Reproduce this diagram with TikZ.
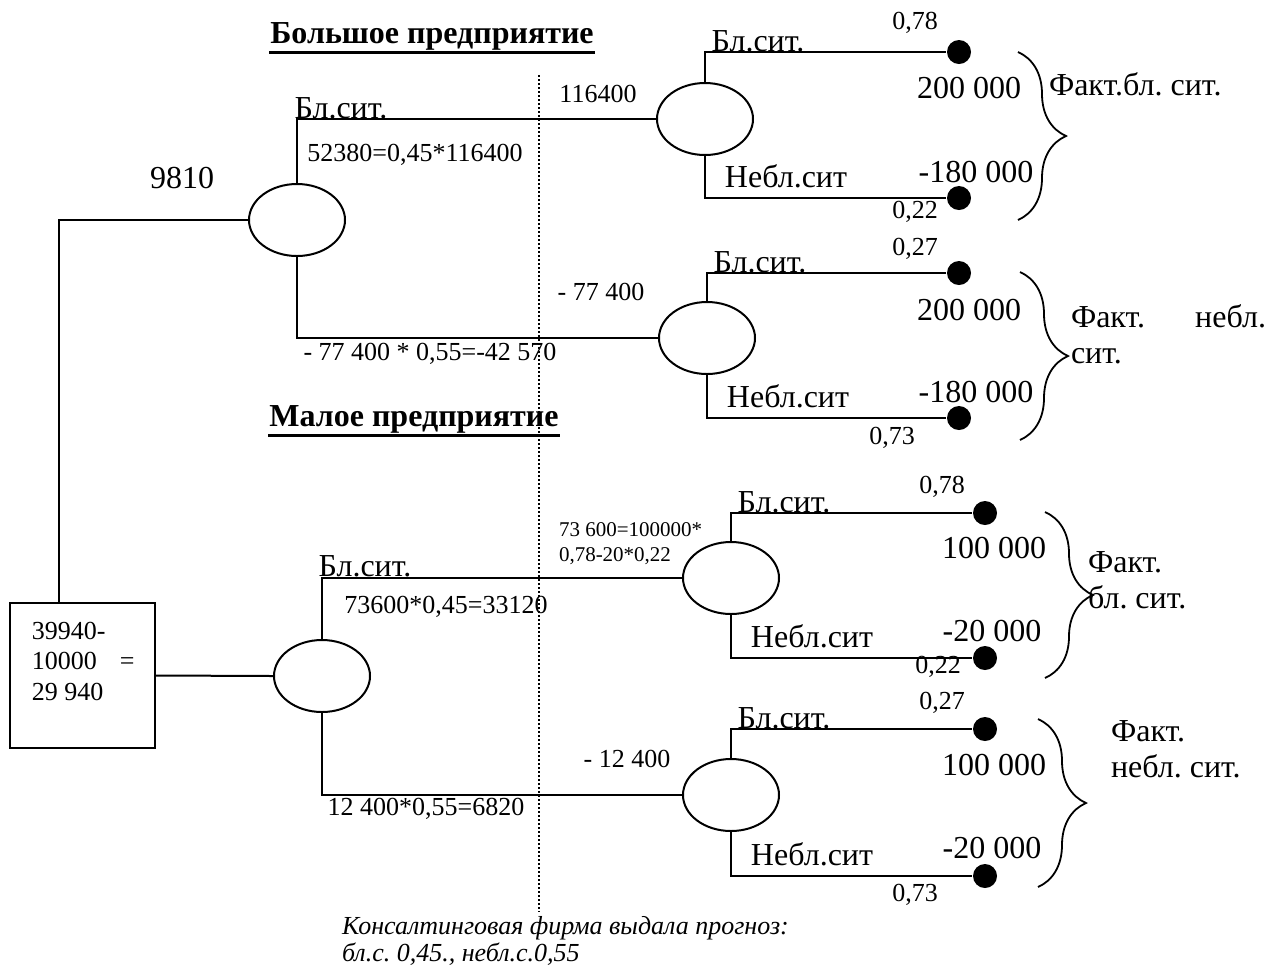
\documentclass[tikz,border=0pt]{standalone}
\usepackage{fontspec}
\setmainfont{Liberation Serif}
\usetikzlibrary{positioning}
\usetikzlibrary{shapes.geometric}
\usetikzlibrary{decorations.pathreplacing}

\begin{document}
\frenchspacing
\begin{tikzpicture}[x=0.5pt, y=-0.5pt, line width=1pt,
    chance/.style={ellipse, draw=black, minimum width=48pt, minimum height=36pt, inner sep=0pt},
    leaf/.style={circle, fill=black, minimum size=12pt, inner sep=0pt},
    box/.style={rectangle, draw=black, minimum width=72.5pt, minimum height=72.5pt},
    bigtxt/.style={inner sep=0pt, font=\fontsize{16}{18}\selectfont},
    midtxt/.style={inner sep=0pt, font=\fontsize{13}{15.25}\selectfont},
    smalltxt/.style={inner sep=0pt, font=\fontsize{10.5}{12.5}\selectfont},
    title/.style={inner sep=0pt, font=\fontsize{16}{18}\selectfont\bfseries},
    curly/.style={decorate, decoration={brace, amplitude=24pt}, line width=0.9pt}]
    \useasboundingbox (0,0) rectangle (1264,966);

    % decision part
    \node[box] (root) at (82.5,675.5) {};
    \node[midtxt, anchor=north west, align=left] (rootlbl) at ([shift={(22,19)}]root.north west)
        {39940-\\10000\hspace{11.5pt}=\\29 940};
    \node[chance] (big) at (297,220) {};
    \node[chance] (small) at (322,676) {};

    % chance nodes with their outcomes
    \foreach \n/\cx/\cy/\dx/\ty/\by in {u1/705/119/959/52/198, u2/707/338/959/273/418,
                                       l1/731/578/985/513/658, l2/731/795/985/729/876}
    {
        \node[chance] (\n) at (\cx,\cy) {};
        \node[leaf] (\n top) at (\dx,\ty) {};
        \node[leaf] (\n bot) at (\dx,\by) {};
        \draw (\n.north) |- (\n top);
        \draw (\n.south) |- (\n bot);
        \node[bigtxt] (\n good) at (\cx+53,\ty-11) {Бл.сит.};
        \node[bigtxt] (\n bad) at (\cx+81,\by-22) {Небл.сит};
    }

    \draw ([xshift=-11.75pt]root.north) |- (big.west);
    \draw (root.east) -- (small.west);
    \draw (big.north) |- (u1.west);
    \draw (big.south) |- (u2.west);
    \draw (small.north) |- (l1.west);
    \draw (small.south) |- (l2.west);

    % forecast border
    \coordinate (cut top) at (539,75);
    \coordinate (cut bot) at (539,912);
    \draw[dash pattern=on 1pt off 1pt] (cut top) -- (cut bot);

    % braces
    \draw[curly] (1018,52) -- (1018,220);
    \draw[curly] (1020,272) -- (1020,440);
    \draw[curly] (1045,512) -- (1045,678);
    \draw[curly] (1038,719) -- (1038,887);

    % probabilities and payoffs
    \foreach \x/\y/\v [count=\i] in {915/23/{0,78}, 915/212/{0,22}, 915/249/{0,27}, 892/438/{0,73},
                                     942/487/{0,78}, 938/667/{0,22}, 942/703/{0,27}, 915/895/{0,73}}
        \node[midtxt] (p\i) at (\x,\y) {\v};
    \foreach \x/\y/\v [count=\i] in {969/88/200 000, 976/172/-180 000, 969/310/200 000, 976/392/-180 000,
                                     994/548/100 000, 992/631/-20 000, 994/765/100 000, 992/848/-20 000}
        \node[bigtxt] (v\i) at (\x,\y) {\v};

    \node[bigtxt, anchor=west] (f1) at (1048,84) {Факт.бл. сит.};
    \node[bigtxt, anchor=west, align=left] (f2) at (1070,334) {Факт.\hspace{25pt}небл.\\сит.};
    \node[bigtxt, anchor=west, align=left] (f3) at (1087,580) {Факт.\\бл. сит.};
    \node[bigtxt, anchor=west, align=left] (f4) at (1110,749) {Факт.\\небл. сит.};

    % labels on the left part
    \node[title] (title1) at (432,36) {Большое предприятие};
    \draw[line width=1.6pt] ([yshift=-1pt]title1.south west) -- ([yshift=-1pt]title1.south east);
    \node[title] (title2) at (414,419) {Малое предприятие};
    \draw[line width=1.6pt] ([yshift=-1pt]title2.south west) -- ([yshift=-1pt]title2.south east);
    \node[bigtxt] (ev1) at (182,178) {9810};
    \node[bigtxt] (bl1) at (341,108) {Бл.сит.};
    \node[midtxt] (e1) at (415,155) {52380=0,45*116400};
    \node[midtxt] (e2) at (598,94) {116400};
    \node[midtxt] (e3) at (601,292) {- 77 400};
    \node[midtxt] (e4) at (430,354) {- 77 400 * 0,55=-42 570};
    \node[bigtxt] (bl2) at (365,566) {Бл.сит.};
    \node[midtxt] (e5) at (446,607) {73600*0,45=33120};
    \node[smalltxt, anchor=north west, align=left] (e6) at (558,522) {73 600=100000*\\0,78-20*0,22};
    \node[midtxt] (e7) at (627,759) {- 12 400};
    \node[midtxt] (e8) at (426,809) {12 400*0,55=6820};
    \node[anchor=north west, align=left, inner sep=0pt, font=\itshape\fontsize{13}{13.5}\selectfont] (note)
        at (341,915) {Консалтинговая фирма выдала прогноз:\\бл.с. 0,45., небл.с.0,55};
\end{tikzpicture}
\end{document}
